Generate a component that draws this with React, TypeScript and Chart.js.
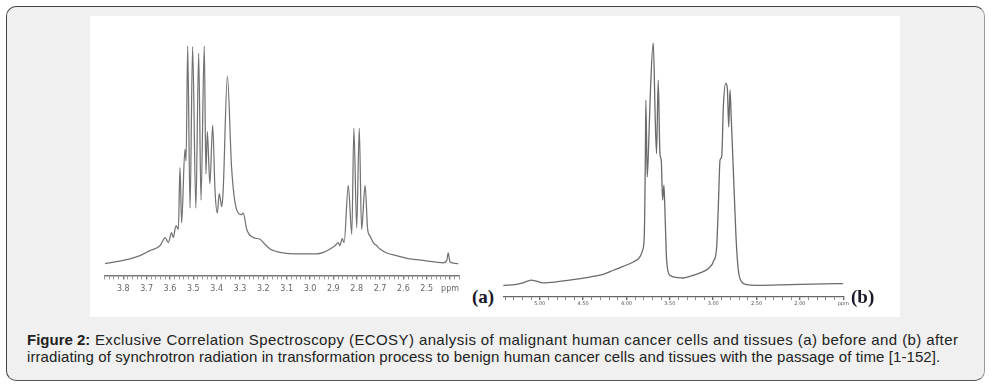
import React, { useEffect, useRef } from "react";
import { Chart, registerables } from "chart.js";

Chart.register(...registerables);

// ---------- Panel (a): before irradiation ----------
const PPM_A = [
  3.878, 3.8, 3.728, 3.686, 3.643, 3.621, 3.607, 3.593, 3.586, 3.574, 3.564, 3.557, 3.55,
  3.536, 3.531, 3.524, 3.514, 3.503, 3.489, 3.477, 3.467, 3.453, 3.446, 3.44, 3.429, 3.417,
  3.407, 3.397, 3.389, 3.378, 3.372, 3.354, 3.336, 3.314, 3.293, 3.286, 3.271, 3.243, 3.214,
  3.2, 3.171, 3.114, 3.057, 2.971, 2.943, 2.914, 2.893, 2.879, 2.872, 2.862, 2.854, 2.836,
  2.821, 2.812, 2.8, 2.789, 2.779, 2.764, 2.753, 2.743, 2.729, 2.714, 2.7, 2.671, 2.629,
  2.572, 2.515, 2.429, 2.414, 2.408, 2.4, 2.365,
];
const INT_A = [
  0, 1.5, 3.7, 6.0, 8.2, 12.0, 9.7, 14.2, 12.0, 17.5, 15.7, 44.2, 18.7,
  52.5, 47.2, 100, 25.5, 99.7, 25.5, 96.7, 29.2, 100, 41.2, 60.7, 36.7, 63.7,
  33.7, 23.2, 32.2, 26.2, 33.7, 86.2, 44.2, 24.7, 22.5, 23.2, 15.7, 12.0, 11.2,
  9.7, 6.7, 4.9, 4.5, 4.5, 5.2, 6.7, 8.2, 9.7, 8.2, 11.5, 9.7, 36.0,
  13.5, 62.2, 16.5, 62.2, 15.7, 36.0, 15.7, 12.7, 9.7, 8.2, 6.7, 4.9, 3.7,
  2.2, 1.5, 0.4, 1.5, 4.9, 0.7, 0,
];
const MIN_A = 2.36;
const MAX_A = 3.88;
const MINOR_STEP_A = 0.02;
const LABELS_A: Record<string, string> = {
  "3.8": "3.8", "3.7": "3.7", "3.6": "3.6", "3.5": "3.5", "3.4": "3.4", "3.3": "3.3",
  "3.2": "3.2", "3.1": "3.1", "3.0": "3.0", "2.9": "2.9", "2.8": "2.8", "2.7": "2.7",
  "2.6": "2.6", "2.5": "2.5", "2.4": "ppm",
};

// ---------- Panel (b): after irradiation ----------
const PPM_B = [
  5.423, 5.269, 5.192, 5.135, 5.096, 5.038, 4.962, 4.808, 4.615, 4.423, 4.269, 4.153, 4.038,
  3.922, 3.845, 3.814, 3.795, 3.784, 3.776, 3.761, 3.745, 3.722, 3.691, 3.668, 3.653, 3.634,
  3.614, 3.599, 3.583, 3.568, 3.553, 3.537, 3.499, 3.422, 3.345, 3.268, 3.152, 3.056, 2.991,
  2.96, 2.941, 2.921, 2.902, 2.883, 2.856, 2.837, 2.821, 2.806, 2.791, 2.768, 2.737, 2.71,
  2.671, 2.614, 2.498, 2.113, 1.728, 1.5,
];
const INT_B = [
  0, 0.4, 1.0, 1.8, 2.1, 1.7, 1.0, 1.4, 2.3, 3.4, 4.5, 6.2, 7.8,
  9.6, 11.7, 14.4, 19.9, 46.1, 76.3, 44.7, 57.1, 81.8, 100, 68.1, 54.3, 84.6,
  54.3, 51.6, 35.1, 41.3, 26.8, 10.3, 4.1, 3.2, 3.0, 3.7, 5.1, 6.9, 10.3,
  15.8, 32.3, 51.6, 53.0, 73.6, 83.2, 81.2, 65.3, 80.5, 68.1, 47.5, 19.9, 6.2,
  1.4, 0.3, 0, 0.3, 0.6, 0.7,
];
const MIN_B = 1.5;
const MAX_B = 5.42;
const MINOR_STEP_B = 0.1;
const LABELS_B: Record<string, string> = {
  "5.0": "5.00", "4.5": "4.50", "4.0": "4.00", "3.5": "3.50", "3.0": "3.00",
  "2.5": "2.50", "2.0": "2.00", "1.5": "ppm",
};

const CAPTION_BOLD = "Figure 2:";
const CAPTION_LINE1 =
  " Exclusive Correlation Spectroscopy (ECOSY) analysis of malignant human cancer cells and tissues (a) before and (b) after";
const CAPTION_LINE2 =
  "irradiating of synchrotron radiation in transformation process to benign human cancer cells and tissues with the passage of time [1-152].";

type PanelCfg = {
  ppm: number[];
  inten: number[];
  min: number;
  max: number;
  step: number;
  labels: Record<string, string>;
  yMin: number;
  padding: { left: number; right: number; top: number; bottom: number };
  lineColor: string;
  lineWidth: number;
  fontSize: number;
  tickLength: number;
  tickPadding: number;
  axisColor: string;
  axisWidth: number;
  labelColor: string;
};

function makeChart(canvas: HTMLCanvasElement, cfg: PanelCfg) {
  const points = cfg.ppm.map((x, i) => ({ x, y: cfg.inten[i] }));
  const first = Math.ceil(cfg.min / cfg.step - 1e-6);
  const last = Math.floor(cfg.max / cfg.step + 1e-6);
  const tickVals: number[] = [];
  for (let k = first; k <= last; k++) tickVals.push(+(k * cfg.step).toFixed(3));
  return new Chart(canvas, {
    type: "line",
    data: {
      datasets: [
        {
          data: points,
          borderColor: cfg.lineColor,
          borderWidth: cfg.lineWidth,
          pointRadius: 0,
          fill: false,
          cubicInterpolationMode: "monotone",
        },
      ],
    },
    options: {
      animation: false,
      responsive: false,
      devicePixelRatio: 1,
      events: [],
      layout: { padding: cfg.padding },
      plugins: { legend: { display: false }, tooltip: { enabled: false } },
      scales: {
        x: {
          type: "linear",
          reverse: true,
          min: cfg.min,
          max: cfg.max,
          afterBuildTicks: (scale: any) => {
            scale.ticks = tickVals.map((v) => ({ value: v }));
          },
          grid: {
            display: true,
            drawOnChartArea: false,
            drawTicks: true,
            tickLength: cfg.tickLength,
            color: cfg.axisColor,
            lineWidth: (ctx: any) => {
              const v = ctx.tick ? ctx.tick.value : 0;
              return cfg.labels[v.toFixed(1)] !== undefined &&
                Math.abs(v * 10 - Math.round(v * 10)) < 1e-6
                ? 1.4
                : 0.8;
            },
          },
          border: { display: true, color: cfg.axisColor, width: cfg.axisWidth },
          ticks: {
            autoSkip: false,
            maxRotation: 0,
            padding: cfg.tickPadding,
            color: cfg.labelColor,
            font: { family: "'DejaVu Sans', sans-serif", size: cfg.fontSize },
            callback: (value: any) => {
              const v = Number(value);
              if (Math.abs(v * 10 - Math.round(v * 10)) > 1e-6) return "";
              const lab = cfg.labels[v.toFixed(1)];
              return lab === undefined ? "" : lab;
            },
          },
        },
        y: { display: false, min: cfg.yMin, max: 100 },
      },
    },
  } as any);
}

export default function App() {
  const refA = useRef<HTMLCanvasElement>(null);
  const refB = useRef<HTMLCanvasElement>(null);

  useEffect(() => {
    const a = makeChart(refA.current!, {
      ppm: PPM_A,
      inten: INT_A,
      min: MIN_A,
      max: MAX_A,
      step: MINOR_STEP_A,
      labels: LABELS_A,
      yMin: -5.4,
      padding: { left: 14.6, right: 10.6, top: 30, bottom: 18 },
      lineColor: "#727272",
      lineWidth: 1.25,
      fontSize: 8,
      tickLength: 4,
      tickPadding: 5,
      axisColor: "#777",
      axisWidth: 1.6,
      labelColor: "#666",
    });
    const b = makeChart(refB.current!, {
      ppm: PPM_B,
      inten: INT_B,
      min: MIN_B,
      max: MAX_B,
      step: MINOR_STEP_B,
      labels: LABELS_B,
      yMin: -4.83,
      padding: { left: 8.3, right: 56.7, top: 26.7, bottom: 9 },
      lineColor: "#6a6a6a",
      lineWidth: 1.3,
      fontSize: 5,
      tickLength: 3,
      tickPadding: 1,
      axisColor: "#666",
      axisWidth: 1.3,
      labelColor: "#555",
    });
    return () => {
      a.destroy();
      b.destroy();
    };
  }, []);

  const labelStyle: React.CSSProperties = {
    position: "absolute",
    fontFamily: "'Liberation Serif', 'Times New Roman', serif",
    fontWeight: "bold",
    fontSize: 19,
    color: "#1a1a2a",
    lineHeight: "20px",
  };

  return (
    <div
      style={{
        position: "absolute",
        left: 0,
        top: 0,
        width: 992,
        height: 387,
        background: "#fff",
        overflow: "hidden",
      }}
    >
      <div
        style={{
          position: "absolute",
          left: 6,
          top: 6,
          width: 977,
          height: 373,
          background: "#f0f0f0",
          border: "1px solid #444",
          borderRightColor: "#999",
          borderBottomColor: "#555",
          borderRadius: 10,
        }}
      />
      <div
        style={{
          position: "absolute",
          left: 90,
          top: 16,
          width: 810,
          height: 301,
          background: "#fff",
        }}
      />
      <canvas
        ref={refA}
        width={380}
        height={301}
        style={{ position: "absolute", left: 90, top: 16, width: 380, height: 301 }}
      />
      <canvas
        ref={refB}
        width={405}
        height={301}
        style={{ position: "absolute", left: 495, top: 16, width: 405, height: 301 }}
      />
      <div style={{ ...labelStyle, left: 472, top: 287 }}>(a)</div>
      <div style={{ ...labelStyle, left: 851, top: 287 }}>(b)</div>
      <div
        style={{
          position: "absolute",
          left: 27,
          top: 331,
          width: 960,
          fontFamily: "'Liberation Sans', Arial, sans-serif",
          fontSize: 15,
          lineHeight: "17px",
          color: "#222",
          whiteSpace: "nowrap",
        }}
      >
        <b>{CAPTION_BOLD}</b>
        <span style={{ letterSpacing: 0.4 }}>{CAPTION_LINE1}</span>
        <br />
        <span style={{ letterSpacing: 0.1 }}>{CAPTION_LINE2}</span>
      </div>
    </div>
  );
}
